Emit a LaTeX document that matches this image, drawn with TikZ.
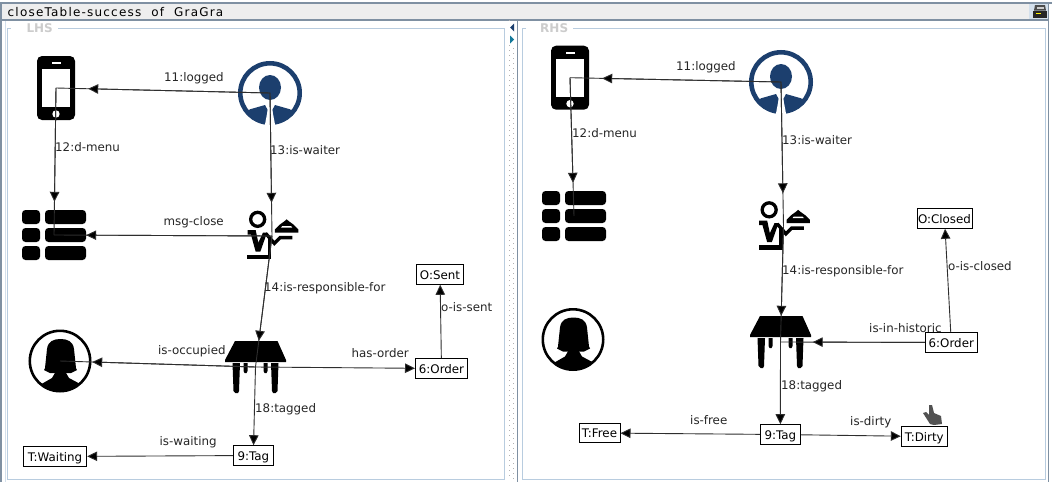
\documentclass[tikz,border=0pt]{standalone}
\usepackage{fontspec}
\setmainfont{DejaVu Sans}
\newfontfamily\titlefont[LetterSpace=10]{DejaVu Sans}
\usetikzlibrary{arrows.meta}
\definecolor{chrome}{HTML}{7F90A2}
\definecolor{paneborder}{HTML}{B8CCDF}
\definecolor{titlebg}{HTML}{EEEEEE}
\definecolor{navy}{HTML}{1C3F6E}
\tikzset{
  lab/.style={font=\fontsize{11.85}{14}\selectfont,inner sep=0pt,anchor=west,text height=10.5pt,text depth=1pt,text=black!85},
  boxn/.style={draw=black,line width=1pt,fill=white,font=\fontsize{11.85}{14}\selectfont,inner sep=0pt,minimum height=19.6pt,text height=10.5pt,text depth=1pt},
  iconn/.style={inner sep=0pt,minimum width=64pt,minimum height=66pt},
  tablen/.style={inner sep=0pt,minimum width=64pt,minimum height=52pt},
  edgeline/.style={line width=0.9pt,draw=black!82},
  edgearrow/.style={line width=0.9pt,draw=black!82,-{Triangle[length=10pt,width=9.5pt,fill=black]}},
  panetitle/.style={font=\fontsize{12}{14}\selectfont\bfseries,text=black!20,fill=white,inner sep=0pt,anchor=west,text height=9pt,text depth=1pt,minimum width=47pt},
  phoneicon/.pic={
    \fill[black,rounded corners=5pt] (-19,-32) rectangle (19,32);
    \fill[white] (-14,-19) rectangle (14,19);
    \fill[white] (0,26) circle (3.7);
    \fill[white] (-4.5,-25.6) rectangle (4.5,-24.2);
  },
  menuicon/.pic={
    \foreach \r in {-25,-7,11}{
      \fill[black,rounded corners=3.5pt] (-32,\r) rectangle (-14,\r+14);
      \fill[black,rounded corners=3.5pt] (-9,\r) rectangle (32,\r+14);
    }
  },
  personicon/.pic={
    \draw[navy,line width=4.6pt] (0,0) circle (29.7);
    \fill[navy] (0,-5.5) ellipse (11 and 12.5);
    \fill[navy] (-24.5,20) -- (-20,16.3) -- (-5,12) -- (-2.3,17) -- (-3.3,25.3) -- (-5.7,31) -- (-15,28) -- cycle;
    \fill[navy] (24.5,20) -- (20,16.3) -- (5,12) -- (2.3,17) -- (3.3,25.3) -- (5.7,31) -- (15,28) -- cycle;
    \fill[white] (-1.5,13) -- (1.5,13) -- (5.5,34) -- (-5.5,34) -- cycle;
  },
  waitericon/.pic={
    \begin{scope}[xshift=-37pt,yshift=36pt,x=0.3333pt,y=-0.3333pt]
      \draw[black,line width=3.3pt] (68,58) circle (21);
      \fill[black] (38,90) -- (62,90) -- (70,128) -- (84,98) -- (96,98) -- (76,155) -- (62,155) -- (48,104) -- (38,104) -- cycle;
      \draw[black,line width=3.4pt] (92,100) -- (118,130) -- (135,113) -- (172,113);
      \draw[black,line width=3.4pt] (103,112) -- (103,176);
      \fill[black] (36,164) rectangle (108,178);
      \fill[black] (120,88) -- (134,74) -- (148,64) -- (155,58) -- (162,64) -- (176,74) -- (190,88) -- (190,98) -- (120,98) -- cycle;
      \fill[white] (138,83) -- (172,83) -- (168,78) -- (142,78) -- cycle;
    \end{scope}
  },
  tableicon/.pic={
    \fill[black] (-20.5,-26) -- (22,-26) -- (30.5,-7) -- (30.5,-5) -- (-30.5,-5) -- (-30.5,-7) -- cycle;
    \fill[black] (-23,-4) -- (-15.5,-4) -- (-16.5,24) -- (-17.5,26) -- (-20,26) -- (-22,24) -- cycle;
    \fill[black] (-12,-4) -- (-8,-4) -- (-8,4) -- (-9,6) -- (-11,6) -- (-12,4) -- cycle;
    \fill[black] (8,-4) -- (12,-4) -- (12,4) -- (11,6) -- (9,6) -- (8,4) -- cycle;
    \fill[black] (15.5,-4) -- (23,-4) -- (22,24) -- (20,26) -- (17.5,26) -- (16.5,24) -- cycle;
  },
  womanicon/.pic={
    \draw[black,line width=2.6pt] (0,0) circle (30.2);
    \begin{scope}
      \clip (0,0) circle (30);
      \fill[black] (-22,25) -- (-8,17) -- (-4.5,11) -- (5.5,11) -- (9,17) -- (24,25) -- (24,35) -- (-22,35) -- cycle;
    \end{scope}
    \fill[black] (-15,7) -- (-13,-12) .. controls (-12,-20) and (-6,-22) .. (0.5,-22) .. controls (7,-22) and (13,-20) .. (14,-12) -- (16,7) -- (17,9) -- (11,12) -- (-10,12) -- (-16,9) -- cycle;
  }
}
\begin{document}
\begin{tikzpicture}[x=1pt,y=-1pt]
\useasboundingbox (0,0) rectangle (1052,482);
\fill[white] (0,0) rectangle (1052,482);
% window chrome
\fill[titlebg] (2,4) rectangle (1048,19);
\fill[chrome] (0,1.5) rectangle (1052,3.5);
\fill[chrome] (2,18.6) rectangle (1048,20.6);
\fill[chrome] (0,1.5) rectangle (2.2,482);
\fill[chrome] (1047.6,1.5) rectangle (1048.8,482);
\fill[paneborder!60] (5,20.6) rectangle (6,482);
\fill[chrome] (516.6,20) rectangle (518.4,482);
\fill[paneborder!60] (1029,4) rectangle (1047.6,18.6);
% printer button
\fill[black!85] (1033,10.5) rectangle (1047,17.5);
\fill[black!70] (1035,5) -- (1045,5) -- (1046,10.5) -- (1034,10.5) -- cycle;
\fill[white!80!black] (1036.5,6.5) rectangle (1043.5,9);
\fill[yellow] (1036,13) rectangle (1041,14.4);
% divider
\foreach \i in {0,...,91}{
  \fill[black!30] (509,20+5*\i) rectangle (510,21+5*\i);
  \fill[black!30] (513,22.5+5*\i) rectangle (514,23.5+5*\i);
}
\fill[white] (507,21) rectangle (515,44);
\fill[navy] (514,23.5) -- (510,27.5) -- (514,31.5) -- cycle;
\fill[navy!70!cyan] (510,35.5) -- (514,39.5) -- (510,43.5) -- cycle;
% pane borders
\draw[paneborder,line width=1pt] (7.5,28.5) rectangle (504.5,479);
\draw[paneborder,line width=1pt] (522,28.5) rectangle (1045,479);
\node[panetitle] (lhstitle) at (11,28.5) {\hspace{10pt}LHS};
\node[panetitle] (rhstitle) at (526,28.5) {\hspace{9pt}RHS};
\node[font=\titlefont\fontsize{12}{14}\selectfont,inner sep=0pt,anchor=west,text height=10.5pt,text depth=1pt] (windowtitle) at (7.5,11.5) {closeTable-success\ \ of\ \ GraGra};

% LHS icon nodes
\node[iconn] (lphone) at (56,88) {};
\node[iconn] (lperson) at (270,93) {};
\node[iconn] (lmenu) at (54,235) {};
\node[iconn] (lwaiter) at (272,236) {};
\node[tablen] (ltable) at (255.5,367) {};
\node[iconn] (lwoman) at (60,361) {};
\pic at (lphone.center) {phoneicon};
\pic at (lperson.center) {personicon};
\pic at (lmenu.center) {menuicon};
\pic at (lwaiter.center) {waitericon};
\pic at (ltable.center) {tableicon};
\pic at (lwoman.center) {womanicon};
% LHS box nodes
\node[boxn,minimum width=52pt] (lorder) at (441.5,368.5) {6:Order};
\node[boxn,minimum width=47pt] (lsent) at (440,274.5) {O:Sent};
\node[boxn,minimum width=40pt] (ltag) at (253.3,455.5) {9:Tag};
\node[boxn,minimum width=63.4pt] (lwaiting) at (55,456.5) {T:Waiting};
% LHS edges
\draw[edgeline] (lperson.center) -- (lphone.center);
\draw[edgearrow] (lperson.center) -- (lphone);
\draw[edgeline] (lphone.center) -- (lmenu.center);
\draw[edgearrow] (lphone.center) -- (lmenu);
\draw[edgeline] (lperson.center) -- (lwaiter.center);
\draw[edgearrow] (lperson.center) -- (lwaiter);
\draw[edgeline] (lwaiter.center) -- (lmenu.center);
\draw[edgearrow] (lwaiter.center) -- (lmenu);
\draw[edgeline] (lwaiter.center) -- (ltable.center);
\draw[edgearrow] (lwaiter.center) -- (ltable);
\draw[edgeline] (ltable.center) -- (lwoman.center);
\draw[edgearrow] (ltable.center) -- (lwoman);
\draw[edgearrow] (ltable.center) -- (lorder);
\draw[edgearrow] (lorder) -- (lsent);
\draw[edgearrow] (ltable.center) -- (ltag);
\draw[edgearrow] (ltag) -- (lwaiting);
% LHS labels
\node[lab] (l1) at (164,77) {11:logged};
\node[lab] (l2) at (55,146.5) {12:d-menu};
\node[lab] (l3) at (270,149.5) {13:is-waiter};
\node[lab] (l4) at (163.5,220.5) {msg-close};
\node[lab] (l5) at (264,286.5) {14:is-responsible-for};
\node[lab] (l6) at (158,349.5) {is-occupied};
\node[lab] (l7) at (351.5,352.5) {has-order};
\node[lab] (l8) at (441,307) {o-is-sent};
\node[lab] (l9) at (255,407.5) {18:tagged};
\node[lab] (l10) at (159.5,441) {is-waiting};

% RHS icon nodes
\node[iconn] (rphone) at (570,77.7) {};
\node[iconn] (rperson) at (781,82) {};
\node[iconn] (rmenu) at (574,216) {};
\node[iconn] (rwaiter) at (783.5,226.5) {};
\node[tablen] (rtable) at (780.5,342) {};
\node[iconn] (rwoman) at (573,339.5) {};
\pic at (rphone.center) {phoneicon};
\pic at (rperson.center) {personicon};
\pic at (rmenu.center) {menuicon};
\pic at (rwaiter.center) {waitericon};
\pic at (rtable.center) {tableicon};
\pic at (rwoman.center) {womanicon};
% RHS box nodes
\node[boxn,minimum width=52pt] (rorder) at (951.3,342.5) {6:Order};
\node[boxn,minimum width=55pt] (rclosed) at (944.5,218.5) {O:Closed};
\node[boxn,minimum width=40pt] (rtag) at (780.3,434.5) {9:Tag};
\node[boxn,minimum width=41pt] (rfree) at (599.5,433) {T:Free};
\node[boxn,minimum width=46pt] (rdirty) at (924.3,436.5) {T:Dirty};
% RHS edges
\draw[edgeline] (rperson.center) -- (rphone.center);
\draw[edgearrow] (rperson.center) -- (rphone);
\draw[edgeline] (rphone.center) -- (rmenu.center);
\draw[edgearrow] (rphone.center) -- (rmenu);
\draw[edgeline] (rperson.center) -- (rwaiter.center);
\draw[edgearrow] (rperson.center) -- (rwaiter);
\draw[edgeline] (rwaiter.center) -- (rtable.center);
\draw[edgearrow] (rwaiter.center) -- (rtable);
\draw[edgeline] (rorder) -- (rtable.center);
\draw[edgearrow] (rorder) -- (rtable);
\draw[edgearrow] (rorder) -- (rclosed);
\draw[edgearrow] (rtable.center) -- (rtag);
\draw[edgearrow] (rtag) -- (rfree);
\draw[edgearrow] (rtag) -- (rdirty);
% RHS labels
\node[lab] (r1) at (676,65.5) {11:logged};
\node[lab] (r2) at (572,132.5) {12:d-menu};
\node[lab] (r3) at (782,139.5) {13:is-waiter};
\node[lab] (r4) at (782,269.5) {14:is-responsible-for};
\node[lab] (r5) at (948,265.5) {o-is-closed};
\node[lab] (r6) at (869,327.5) {is-in-historic};
\node[lab] (r7) at (781,384.5) {18:tagged};
\node[lab] (r8) at (690,420) {is-free};
\node[lab] (r9) at (850,420.5) {is-dirty};
% pointer
\fill[black!68] (929,405) -- (932,405) -- (934,413) -- (941,416) -- (942,424) -- (934,425) -- (930,424) -- (923,413) -- (926,412) -- (929,415) -- cycle;
\end{tikzpicture}
\end{document}
